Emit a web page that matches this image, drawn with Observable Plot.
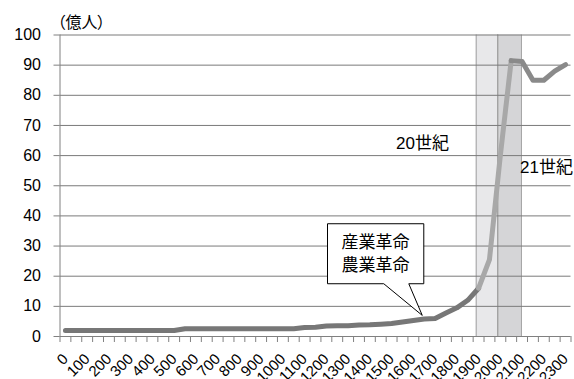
<!DOCTYPE html>
<html><head><meta charset="utf-8">
<script src="https://cdn.jsdelivr.net/npm/d3@7"></script>
<script src="https://cdn.jsdelivr.net/npm/@observablehq/plot@0.6"></script>
<style>
body{margin:0;background:#fff}
svg text{font-feature-settings:"palt"}
</style>
</head><body><div id="chart"></div>
<script>
// Categories (years) and world population (億人)
const years = [0,50,100,150,200,250,300,350,400,450,500,550,600,650,700,750,800,850,900,950,1000,1050,1100,1150,1200,1250,1300,1350,1400,1450,1500,1550,1600,1650,1700,1750,1800,1850,1900,1950,2000,2050,2100,2150,2200,2250,2300];
const population = [2.0,2.0,2.0,2.0,2.0,2.0,2.0,2.0,2.0,2.0,2.0,2.6,2.6,2.6,2.6,2.6,2.6,2.6,2.6,2.6,2.6,2.6,3.0,3.1,3.5,3.6,3.6,3.8,3.9,4.1,4.3,4.8,5.3,5.8,6.0,7.8,9.5,12.0,16.0,25.5,60.0,91.5,91.2,85.0,85.0,88.0,90.2];
const yTicks = [0,10,20,30,40,50,60,70,80,90,100];
const xLabelYears = [0,100,200,300,400,500,600,700,800,900,1000,1100,1200,1300,1400,1500,1600,1700,1800,1900,2000,2100,2200,2300];
const centuryLabels = ["20世紀","21世紀"];
const centuryStart = [1889,1988];
const centuryEnd = [1988,2097];
const centuryFill = ["#e8e8ea","#d5d5d7"];
const segmentBreaks = [1900,2050];
const segmentColors = ["#777777","#a8a8a8","#8a8a8a"];
const calloutLines = ["産業革命","農業革命"];
const unitLabel = "（億人）";

const data = years.map((year,i)=>({year, value: population[i]}));
const segData = [];
segmentColors.forEach((c,k)=>{
  const lo = k===0 ? -Infinity : segmentBreaks[k-1];
  const hi = k===segmentBreaks.length ? Infinity : segmentBreaks[k];
  data.filter(d=>d.year>=lo && d.year<=hi).forEach(d=>segData.push({...d, seg:k, color:c}));
});
const centuries = centuryLabels.map((label,i)=>({label, x1:centuryStart[i], x2:centuryEnd[i], fill:centuryFill[i]}));
const tickBoundaries = years.map(y=>y-25).concat([years[years.length-1]+25]);

// callout outline (data units)
const callout = [
  {x:1207,y:37.4},{x:1648,y:37.4},{x:1648,y:17.5},{x:1579,y:17.5},
  {x:1641,y:7.0},{x:1464,y:17.5},{x:1207,y:17.5}
];

const font = "'Liberation Sans','Noto Sans CJK JP',sans-serif";

const chart = Plot.plot({
  width:574, height:379,
  marginLeft:59.5, marginRight:3.5, marginTop:34.5, marginBottom:43,
  x:{type:"linear", domain:[-25,2325]},
  y:{domain:[0,100]},
  style:{fontFamily:font, background:"white", color:"black"},
  marks:[
    Plot.rect(centuries,{x1:"x1",x2:"x2",y1:0,y2:100,fill:"fill"}),
    Plot.ruleX(centuries,{x:"x1",y1:0,y2:100,stroke:"#a0a0a0"}),
    Plot.ruleX(centuries,{x:"x2",y1:0,y2:100,stroke:"#a0a0a0"}),
    Plot.ruleY(yTicks.filter(d=>d>0),{stroke:"#7a7a7a"}),
    Plot.ruleY([0],{stroke:"#808080"}),
    Plot.ruleX([-25],{y1:0,y2:100,stroke:"#808080"}),
    Plot.axisY(yTicks,{tickSize:6, tickPadding:13, fontSize:16, stroke:"#808080", fill:"black", label:null, tickFormat:d=>String(d)}),
    Plot.axisX(tickBoundaries,{tickSize:6, stroke:"#808080", tickFormat:()=>"", label:null}),
    Plot.axisX(xLabelYears,{tickSize:0, tickPadding:20, tickRotate:-45, fontSize:15, fill:"black", label:null, tickFormat:d=>String(d)}),
    Plot.line(segData,{x:"year",y:"value",z:"seg",stroke:"color",strokeWidth:5,strokeLinejoin:"round",strokeLinecap:"round"}),
    Plot.line(callout,{x:"x",y:"y",curve:"linear-closed",fill:"white",stroke:"black",strokeWidth:1}),
    Plot.text(calloutLines,{x:1426,y:(d,i)=>31.3-i*7.8,text:d=>d,fontSize:17,fill:"black"}),
    Plot.text(centuries,{x:[1642,2212],y:[64,56],text:"label",fontSize:17,fill:"black"}),
    Plot.text([unitLabel],{x:-37,y:104.1,text:d=>d,textAnchor:"start",fontSize:16,fill:"black"})
  ]
});
document.getElementById("chart").appendChild(chart);
</script>
</body></html>
